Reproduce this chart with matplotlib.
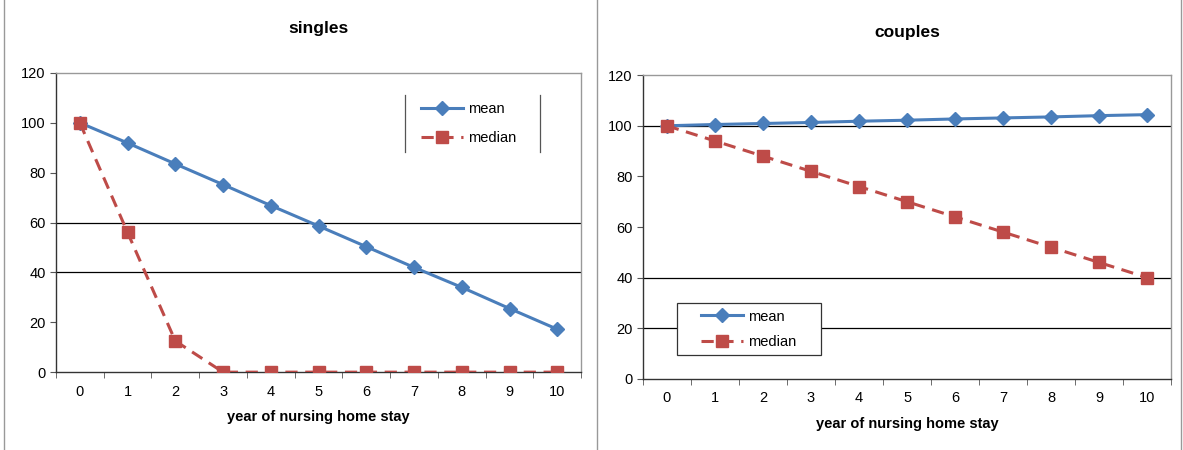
import matplotlib
matplotlib.use("Agg")
import matplotlib.pyplot as plt
from matplotlib.lines import Line2D
from matplotlib.patches import Rectangle

plt.rcParams["font.family"] = ["Liberation Sans", "DejaVu Sans"]

years = list(range(11))
singles_mean = [100, 91.9, 83.5, 75.2, 66.8, 58.6, 50.3, 42.0, 34.0, 25.5, 17.2]
singles_median = [100, 56, 12.5, 0, 0, 0, 0, 0, 0, 0, 0]
couples_mean = [100, 100.5, 100.9, 101.3, 101.8, 102.2, 102.7, 103.1, 103.5, 104.0, 104.4]
couples_median = [100, 94, 88, 82, 76, 70, 64, 58, 52, 46, 40]
y_ticks = [0, 20, 40, 60, 80, 100, 120]
x_label = "year of nursing home stay"

BLUE = "#4a7ebb"
RED = "#be4b48"
FS = 10.5

fig = plt.figure(figsize=(11.83, 4.5), dpi=100, facecolor="white")


def panel(rect, title, mean, median, grid_vals, title_y):
    ax = fig.add_axes(rect)
    ax.set_xlim(-0.5, 10.5)
    ax.set_ylim(0, 120)
    for g in grid_vals:
        ax.axhline(g, color="black", lw=0.9, zorder=1)
    ax.plot(years, mean, color=BLUE, lw=2.2, marker="D", ms=7,
            markerfacecolor=BLUE, markeredgecolor=BLUE, zorder=3, label="mean")
    ax.plot(years, median, color=RED, lw=2.2, ls=(0, (4, 2.5)), marker="s", ms=8.5,
            markerfacecolor=RED, markeredgecolor=RED, zorder=3, label="median")
    ax.set_yticks(y_ticks)
    ax.set_xticks(years)
    ax.set_xticks([i - 0.5 for i in range(12)], minor=True)
    ax.tick_params(axis="x", which="major", length=0, pad=9, labelsize=FS)
    ax.tick_params(axis="x", which="minor", length=4, direction="out", color="#555555")
    ax.tick_params(axis="y", length=4, direction="out", labelsize=FS, color="#555555")
    for s in ("left", "bottom"):
        ax.spines[s].set_color("#333333")
        ax.spines[s].set_linewidth(1.0)
    for s in ("top", "right"):
        ax.spines[s].set_color("#999999")
        ax.spines[s].set_linewidth(1.0)
    ax.set_xlabel(x_label, fontsize=FS, fontweight="bold", labelpad=8)
    fig.text(rect[0] + rect[2] / 2, title_y, title, ha="center", va="center",
             fontsize=12.5, fontweight="bold")
    return ax


ax1 = panel([0.0473, 0.173, 0.444, 0.665], "singles", singles_mean, singles_median,
            [40, 60], 0.937)
ax2 = panel([0.5435, 0.158, 0.4465, 0.675], "couples", couples_mean, couples_median,
            [20, 40, 100], 0.928)

# left legend: only side rules, no box
ax1.legend(loc="center left", bbox_to_anchor=(0.695, 0.831), frameon=False,
           fontsize=FS, handlelength=2.9, handletextpad=0.3, labelspacing=1.0,
           borderpad=0, borderaxespad=0)
for xv in (0.665, 0.922):
    ax1.add_line(Line2D([xv, xv], [0.736, 0.926], transform=ax1.transAxes,
                        color="#555555", lw=0.9))

# right legend with a plain box
ax2.add_patch(Rectangle((0.064, 0.079), 0.273, 0.171, transform=ax2.transAxes,
                        facecolor="white", edgecolor="#333333", lw=0.9, zorder=4))
leg2 = ax2.legend(loc="center left", bbox_to_anchor=(0.11, 0.163), frameon=False,
                  fontsize=FS, handlelength=2.9, handletextpad=0.3, labelspacing=0.8,
                  borderpad=0, borderaxespad=0)
leg2.set_zorder(5)

# panel frames
for xv in (0.003, 0.505, 0.998):
    fig.add_artist(Line2D([xv, xv], [0, 1], transform=fig.transFigure,
                          color="#999999", lw=1.0))

fig.savefig("out.png", dpi=100, facecolor="white")
